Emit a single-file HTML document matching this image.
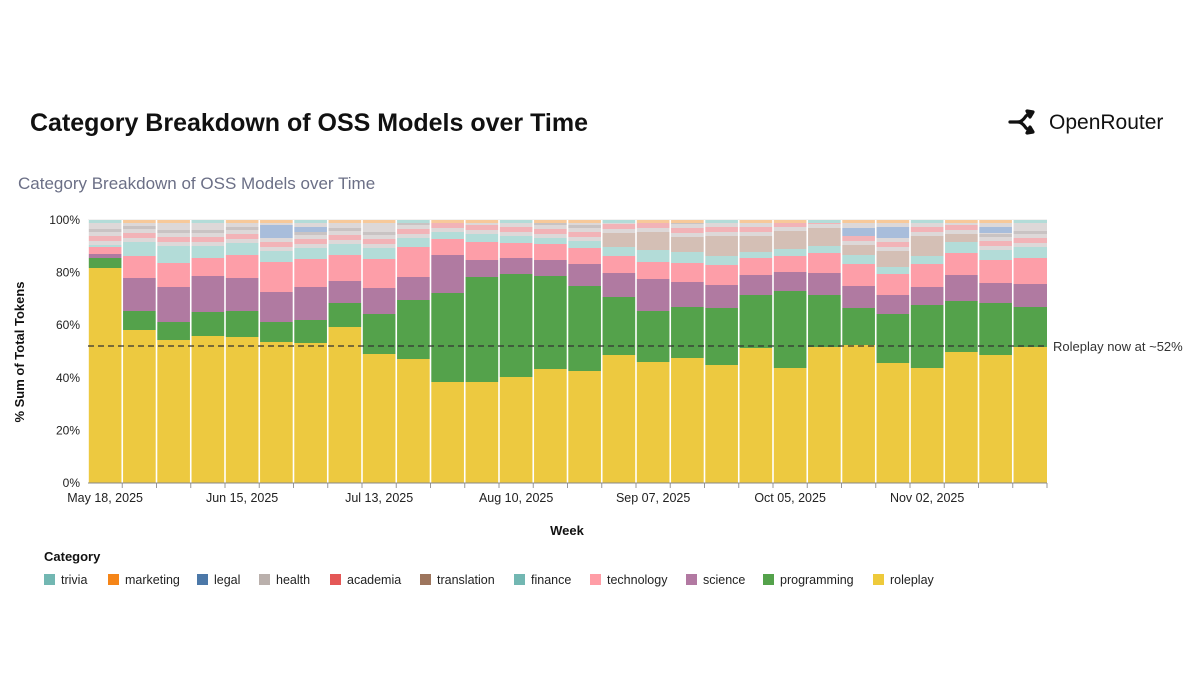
<!DOCTYPE html>
<html><head><meta charset="utf-8"><style>
body{margin:0;background:#fff;width:1200px;height:675px;overflow:hidden;font-family:"Liberation Sans",sans-serif}
</style></head><body>
<svg id="s" width="1200" height="675" xmlns="http://www.w3.org/2000/svg" font-family="Liberation Sans, sans-serif">
<text x="30" y="131" font-size="25" font-weight="bold" fill="#111">Category Breakdown of OSS Models over Time</text>
<g transform="translate(1008,111)" fill="none" stroke="#111" stroke-width="3.2" stroke-linejoin="round" stroke-linecap="round">
<path d="M2 11 L10 11 Q14 11 18 5 L22 2"/><path d="M10 11 Q14 11 18 17 L22 20"/>
<path d="M19 0 L25 1 L22 6 Z" fill="#111"/><path d="M19 22 L25 21 L22 16 Z" fill="#111"/>
</g>
<text x="1049" y="129" font-size="21" fill="#111">OpenRouter</text>
<text x="18" y="189" font-size="17" fill="#6b6f86">Category Breakdown of OSS Models over Time</text>
<g id="grid"></g>
<g id="bars"></g>
<g id="ax"></g>
<line x1="88" y1="346" x2="1047" y2="346" stroke="#333" stroke-width="1.3" stroke-dasharray="6,4"/>
<text x="1053" y="351" font-size="13" fill="#333">Roleplay now at ~52%</text>
<text transform="translate(24,352) rotate(-90)" text-anchor="middle" font-size="13" font-weight="bold" fill="#111">% Sum of Total Tokens</text>
<text x="567" y="535" text-anchor="middle" font-size="13" font-weight="bold" fill="#111">Week</text>
<text x="44" y="561" font-size="13" font-weight="bold" fill="#111">Category</text>
<g id="leg" font-size="12.5" fill="#222"></g>
</svg>
<script>
var NS="http://www.w3.org/2000/svg";
function el(p,t,a,txt){var e=document.createElementNS(NS,t);for(var k in a)e.setAttribute(k,a[k]);if(txt)e.textContent=txt;document.getElementById(p).appendChild(e);return e;}
for(var i=0;i<=5;i++){var y=483-i*52.6;el('grid','line',{x1:88,x2:1047,y1:y,y2:y,stroke:'#e6e6e6','stroke-width':1});
el('ax','text',{x:80,y:y+4,'text-anchor':'end','font-size':12,fill:'#222'},(i*20)+'%');}
var D=[[268,258,254,247,245],[330,311,278,256,242],[340,322,287,263,246],[336,312,276,258,246],[337,311,278,255,243],[342,322,292,262,251],[343,320,287,259,248],[327,303,281,255,244],[354,314,288,259,248],[359,300,277,247,238],[382,293,255,239,232],[382,277,260,242,234],[377,274,258,243,236],[369,276,260,244,238],[371,286,264,248,241],[355,297,273,256,247],[362,311,279,262,250],[358,307,282,263,252],[365,308,285,265,256],[348,295,275,258,252],[368,291,272,256,249],[347,295,273,253,246],[345,308,286,264,255],[363,314,295,274,267],[368,305,287,264,256],[352,301,275,253,242],[355,303,283,260,250],[347,307,284,258,247]];
var tan={16:14,17:18,18:15,19:20,20:16,21:18,22:18,23:10,24:16,25:20,26:8};
var blue={6:[225,238],7:[227,232],23:[228,236],24:[227,238],27:[227,233]};
var bw=959/28;
D.forEach(function(d,i){var x=88+i*bw,w=bw;
function r(y1,y2,c){y1=Math.max(y1,220);if(y2>y1)el('bars','rect',{x:x,y:y1,width:w,height:y2-y1,fill:c});}
r(d[0],483,'#edc940');r(d[1],d[0],'#54a24b');r(d[2],d[1],'#b07aa1');r(d[3],d[2],'#fd9ea8');r(d[4],d[3],'#b3dcd8');
r(220,d[4],'#ddd8d8');
var t=tan[i+1]||0;var tt=d[4]-t;if(t)r(tt,d[4],'#d4bfb5');
var ps=tt-9;r(ps,ps+5,'#f2b3b7');r(ps-7,ps-4,'#c9c3c3');
var b=blue[i+1];if(b)r(b[0],b[1],'#a8bddb');
r(220,223,(i%3==0)?'#b3dcd8':'#f7c99a');
el('bars','line',{x1:x,x2:x,y1:220,y2:483,stroke:'#fff','stroke-width':1.6});
el('ax','line',{x1:x+w,x2:x+w,y1:483,y2:488,stroke:'#999','stroke-width':1});
});
el('ax','line',{x1:88,x2:1047,y1:483,y2:483,stroke:'#888','stroke-width':1});
var L=['May 18, 2025','Jun 15, 2025','Jul 13, 2025','Aug 10, 2025','Sep 07, 2025','Oct 05, 2025','Nov 02, 2025'];
L.forEach(function(s,k){el('ax','text',{x:88+bw*(0.5+4*k),y:502,'text-anchor':'middle','font-size':12.5,fill:'#222'},s);});
var G=[['trivia','#72b7b2',44],['marketing','#f58518',108],['legal','#4c78a8',197],['health','#bab0ac',259],['academia','#e45756',330],['translation','#9d755d',420],['finance','#72b7b2',514],['technology','#ff9da6',590],['science','#b279a2',686],['programming','#54a24b',763],['roleplay','#eeca3b',873]];
G.forEach(function(g){el('leg','rect',{x:g[2],y:574,width:11,height:11,fill:g[1]});el('leg','text',{x:g[2]+17,y:584},g[0]);});
</script>
</body></html>
